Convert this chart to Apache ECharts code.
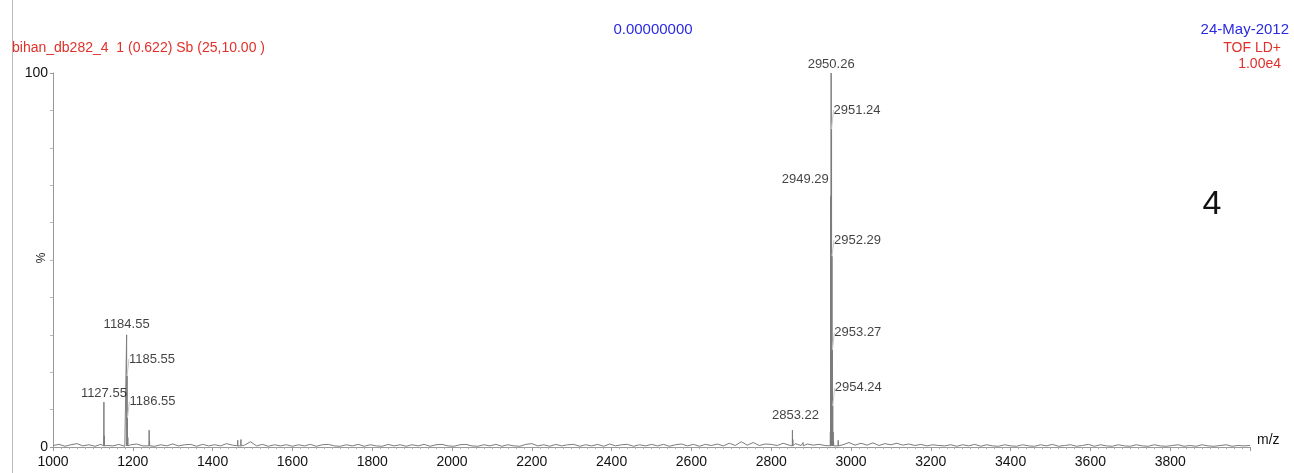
<!DOCTYPE html>
<html>
<head>
<meta charset="utf-8">
<title>bihan_db282_4 TOF LD+</title>
<script src="https://cdn.jsdelivr.net/npm/echarts@6/dist/echarts.min.js"></script>
<style>
  html, body { margin: 0; padding: 0; background: #fff; }
  #chart { width: 1294px; height: 473px; }
</style>
</head>
<body>
<div id="chart"></div>
<script>
// ---- spectrum data (m/z, relative intensity %) ----
const MZ_START = 1000;
const MZ_STEP = 15;
// baseline noise, one value per MZ_STEP from MZ_START
const baselineNoise = [
  0.4,0.7,0.2,0.6,0.9,0.3,0.6,0.2,0.7,0.4,0.3,0.7,0.2,0.6,0.8,0.3,0.6,0.2,0.6,0.3,
  0.8,0.3,0.6,0.7,0.2,0.7,0.3,0.6,0.3,0.9,0.5,1.6,0.5,1.4,0.3,0.7,0.2,0.6,0.3,0.6,
  0.2,0.6,0.3,0.7,0.2,0.6,0.7,0.3,0.2,0.6,0.3,0.7,0.2,0.6,0.3,0.2,0.7,0.3,0.6,0.2,
  0.6,0.3,0.7,0.2,0.6,0.7,0.3,0.2,0.6,0.7,0.3,0.2,0.6,0.3,0.7,0.2,0.6,0.3,0.2,0.7,
  0.9,0.3,0.6,0.2,0.7,0.3,0.6,0.7,0.2,0.6,0.3,0.7,0.2,0.8,0.3,0.6,0.7,0.2,0.6,0.3,
  0.7,0.3,0.7,0.2,0.6,0.8,0.3,0.7,0.2,0.7,0.4,0.8,0.3,1.0,0.4,1.4,0.5,1.2,0.4,0.8,
  0.7,0.4,1.0,0.5,0.9,0.4,0.8,0.5,0.7,0.4,1.1,1.3,0.6,1.2,0.5,1.0,0.5,1.1,0.4,0.9,
  0.6,1.0,0.5,0.8,0.4,0.7,0.3,0.6,0.4,0.3,0.6,0.2,0.6,0.3,0.7,0.2,0.6,0.3,0.2,0.6,
  0.3,0.2,0.6,0.3,0.2,0.6,0.3,0.7,0.2,0.4,0.6,0.2,0.4,0.7,0.2,0.6,0.3,0.2,0.6,0.3,
  0.2,0.6,0.3,0.2,0.6,0.3,0.2,0.4,0.6,0.2,0.4,0.2,0.6,0.3,0.2,0.4,0.6,0.2,0.4,0.3,
  0.4
];

// labelled centroid peaks
const labelledMz  = [1127.55, 1184.55, 1185.55, 1186.55, 2853.22, 2949.29, 2950.26, 2951.24, 2952.29, 2953.27, 2954.24];
const labelledInt = [12.0,    30.0,    19.0,    7.8,     4.5,     67.0,    100.0,   85.0,    51.0,    26.0,    11.0];

// smaller unlabelled peaks
const minorMz  = [1128.5, 1187.5, 1241.0, 1242.0, 1463.0, 1471.0, 2854.2, 2880.0, 2948.3, 2955.3, 2956.3, 2968.0];
const minorInt = [3.0,    2.5,    4.5,    1.5,    1.8,    2.0,    2.0,    1.2,    4.0,    4.0,    1.5,    1.8];

// label placement relative to each labelled peak tip (px); side: -1 left of the peak, 1 right, 0 above
const labelSide = [0, 0, 1, 1, 0, -1, 0, 1, 1, 1, 1];
const labelDx = [0, 0, 2, 2, 3, -2, 0, 2, 2, 2, 2];
const labelDy = [-9, -10, -17, -16, -15, -17, -9, -19, -16, -17, -18];

// axis ticks
const xMin = 1000, xMax = 4000, xInterval = 200;
const yMin = 0, yMax = 100;

// ---- assemble the profile trace ----
const peakMz = labelledMz.concat(minorMz);
const peakInt = labelledInt.concat(minorInt);
const profile = [];
baselineNoise.forEach((v, i) => {
  const mz = MZ_START + i * MZ_STEP;
  const nearPeak = peakMz.some(p => Math.abs(p - mz) < 4);
  if (!nearPeak) profile.push([mz, v]);
});
peakMz.forEach((mz, i) => {
  profile.push([mz - 0.4, 0.3]);
  profile.push([mz, peakInt[i]]);
  profile.push([mz + 0.4, 0.3]);
});
profile.sort((a, b) => a[0] - b[0]);

const labelItems = labelledMz.map((mz, i) => ({
  value: [mz, labelledInt[i]],
  label: { align: labelSide[i] < 0 ? 'right' : (labelSide[i] > 0 ? 'left' : 'center') },
  labelLine: { show: labelSide[i] > 0 }
}));

const FONT = '"Liberation Sans", Arial, sans-serif';
const chart = echarts.init(document.getElementById('chart'), null, { renderer: 'canvas' });

chart.setOption({
  animation: false,
  backgroundColor: '#ffffff',
  grid: { left: 53, right: 44, top: 73, bottom: 26, containLabel: false },
  xAxis: {
    type: 'value',
    min: xMin, max: xMax, interval: xInterval,
    name: 'm/z',
    nameLocation: 'end',
    nameGap: 7,
    nameTextStyle: { color: '#111', fontSize: 14, fontFamily: FONT, verticalAlign: 'bottom' },
    axisLine: { show: true, lineStyle: { color: '#999', width: 1 } },
    axisTick: { show: true, length: 4, lineStyle: { color: '#999' } },
    minorTick: { show: true, splitNumber: 10, length: 2, lineStyle: { color: '#aaa' } },
    axisLabel: { color: '#111', fontSize: 14, fontFamily: FONT, margin: 8, showMaxLabel: false,
                 formatter: v => String(v) },
    splitLine: { show: false }
  },
  yAxis: {
    type: 'value',
    min: yMin, max: yMax, interval: 100,
    axisLine: { show: true, lineStyle: { color: '#999', width: 1 } },
    axisTick: { show: true, length: 3, lineStyle: { color: '#999' } },
    minorTick: { show: true, splitNumber: 10, length: 3, lineStyle: { color: '#bbb' } },
    axisLabel: { color: '#111', fontSize: 14, fontFamily: FONT, margin: 5, formatter: v => String(v) },
    splitLine: { show: false }
  },
  series: [
    {
      type: 'line',
      data: profile,
      symbol: 'none',
      lineStyle: { color: '#7c7c7c', width: 1 },
      silent: true,
      z: 2
    },
    {
      type: 'scatter',
      data: labelItems,
      symbolSize: 0,
      silent: true,
      z: 3,
      label: {
        show: true,
        position: 'inside',
        color: '#111',
        fontSize: 13,
        fontFamily: FONT,
        formatter: p => p.value[0].toFixed(2)
      },
      labelLine: { show: true, lineStyle: { color: '#c8c8c8', width: 1 } },
      labelLayout: p => ({ dx: labelDx[p.dataIndex], dy: labelDy[p.dataIndex] })
    }
  ],
  graphic: [
    { type: 'line', shape: { x1: 12.5, y1: 0, x2: 12.5, y2: 473 }, style: { stroke: '#bdbdbd', lineWidth: 1 } },
    { type: 'text', x: 12, y: 48, style: { text: 'bihan_db282_4  1 (0.622) Sb (25,10.00 )', fill: '#e0302a', font: '14px ' + FONT, verticalAlign: 'middle' } },
    { type: 'text', x: 653, y: 30, style: { text: '0.00000000', fill: '#2a2ae0', font: '15px ' + FONT, align: 'center', verticalAlign: 'middle' } },
    { type: 'text', x: 1289, y: 30, style: { text: '24-May-2012', fill: '#2a2ae0', font: '15px ' + FONT, align: 'right', verticalAlign: 'middle' } },
    { type: 'text', x: 1281, y: 48, style: { text: 'TOF LD+', fill: '#e0302a', font: '14px ' + FONT, align: 'right', verticalAlign: 'middle' } },
    { type: 'text', x: 1281, y: 64, style: { text: '1.00e4', fill: '#e0302a', font: '14px ' + FONT, align: 'right', verticalAlign: 'middle' } },
    { type: 'text', x: 42, y: 258, rotation: Math.PI / 2, style: { text: '%', fill: '#222', font: '12px ' + FONT, align: 'center', verticalAlign: 'middle' } },
    { type: 'text', x: 1212, y: 205, style: { text: '4', fill: '#111', font: '34px ' + FONT, align: 'center', verticalAlign: 'middle' } }
  ]
});
</script>
</body>
</html>
